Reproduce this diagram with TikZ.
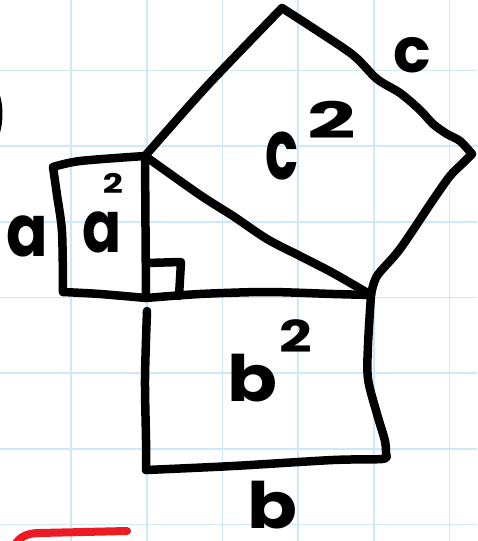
\documentclass[tikz,border=0pt]{standalone}
\usepackage{fontspec}
\setmainfont{Poppins}
\definecolor{gridblue}{RGB}{204,232,251}
\definecolor{penred}{RGB}{237,28,36}
\tikzset{
  pen/.style={line width=8.5pt, line cap=round, line join=round, draw=black},
  redpen/.style={line width=8pt, line cap=round, line join=round, draw=penred},
  gridline/.style={draw=gridblue, line width=1.6pt},
  lbl/.style={inner sep=0pt, text=black, font=\bfseries},
}
\newcommand{\fs}[1]{\fontsize{#1}{#1}\selectfont}
\begin{document}
\begin{tikzpicture}[x=1pt,y=-1pt]
\useasboundingbox (0,0) rectangle (477,541);
\fill[white] (0,0) rectangle (477,541);
\begin{scope}
\clip (0,0) rectangle (477,541);
\foreach \i in {0,...,5} \draw[gridline] ({71+75.7*\i},0) -- ({71+75.7*\i},541);
\foreach \j in {0,...,6} \draw[gridline] (0,{70.3+75.7*\j}) -- (477,{70.3+75.7*\j});

% vertices
\coordinate (P) at (145,156);
\coordinate (R) at (146,298);
\coordinate (B) at (371,295);
\coordinate (C1) at (282,8);
\coordinate (C2) at (472,154);
\coordinate (A1) at (53,167);
\coordinate (A2) at (63,292);
\coordinate (Q1) at (147,311);
\coordinate (Q2) at (146,470);
\coordinate (Q3) at (386,455);

% a-square
\draw[pen] plot[smooth,tension=0.5] coordinates {(A1) (80,161) (P)};
\draw[pen] plot[smooth,tension=0.5] coordinates {(A1) (57,195) (62,232) (A2)};
\draw[pen] plot[smooth,tension=0.5] coordinates {(A2) (100,294) (R)};
\draw[pen] (P) -- (R);
% right angle mark
\draw[pen] (147,263) -- (181,262) -- (179,296);
% triangle
\draw[pen] plot[smooth,tension=0.5] coordinates {(R) (200,294) (267,292) (333,294) (B)};
\draw[pen] plot[smooth,tension=0.5] coordinates {(P) (200,195) (233,216) (267,239) (300,256) (333,273) (B)};
% c-square
\draw[pen] plot[smooth,tension=0.5] coordinates {(P) (207,86) (C1)};
\draw[pen] plot[smooth,tension=0.5] coordinates {(C1) (313,28) (353,55) (377,79) (400,93) (420,110) (433,124) (447,134) (460,141) (C2)};
\draw[pen] plot[smooth,tension=0.5] coordinates {(C2) (463,163) (450,176) (433,200) (400,249) (377,276) (B)};
% b-square
\draw[pen] plot[smooth,tension=0.5] coordinates {(Q1) (145,379) (146,440) (Q2)};
\draw[pen] plot[smooth,tension=0.5] coordinates {(Q2) (233,466) (333,460) (382,459) (Q3)};
\draw[pen] plot[smooth,tension=0.5] coordinates {(B) (368,345) (368,379) (377,414) (385,441) (Q3)};
% left edge arc and red stroke
\draw[pen] (-9,86) .. controls (0.5,100) and (0.5,125) .. (-8,142);
\draw[redpen] (14,546) .. controls (20,536) and (28,533) .. (40,533) -- (127,531);
\end{scope}

% labels
\node[lbl] (la) at (27,236) {\fs{72}\scalebox{0.85}[1]{a}};
\node[lbl] (a2b) at (102,232) {\fs{72}\scalebox{0.8}[1]{a}};
\node[lbl] (a2e) at (113,183) {\fs{27}\scalebox{1.3}[1]{2}};
\node[lbl] (lc) at (412,55) {\fs{62}c};
\node[lbl] (c2b) at (282,156) {\fs{84}\scalebox{0.65}[1]{c}};
\node[lbl] (c2e) at (332,120) {\fs{50}\scalebox{1.7}[1]{2}};
\node[lbl] (b2b) at (252,378) {\fs{64}\scalebox{1.15}[1]{b}};
\node[lbl] (b2e) at (296,336) {\fs{44}\scalebox{1.3}[1]{2}};
\node[lbl] (lb) at (272,505) {\fs{64}\scalebox{1.15}[1]{b}};
\end{tikzpicture}
\end{document}
